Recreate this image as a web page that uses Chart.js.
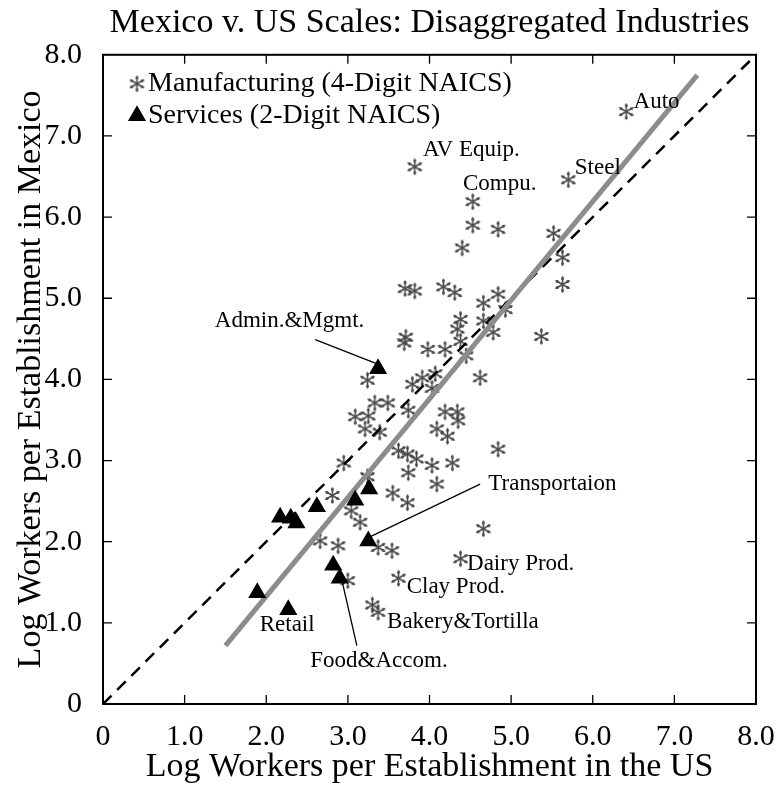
<!DOCTYPE html>
<html>
<head>
<meta charset="utf-8">
<script src="https://cdn.jsdelivr.net/npm/chart.js@4/dist/chart.umd.min.js"></script>
<style>
  html, body { margin: 0; padding: 0; background: #fff; }
  #wrap { width: 778px; height: 787px; }
</style>
</head>
<body>
<div id="wrap"><canvas id="scaleChart"></canvas></div>
<script>
// log workers per establishment, US (x) vs Mexico (y)
var mfgUS = [6.41, 3.82, 5.70, 4.53, 4.53, 4.84, 4.40, 5.52, 5.63, 5.63,
             3.70, 3.82, 4.17, 4.31, 4.84, 4.66, 4.93, 4.38, 4.66, 4.34,
             4.78, 5.37, 3.71, 3.69, 3.98, 4.19, 4.38, 4.45, 3.24, 3.79,
             3.91, 4.03, 4.07, 4.62, 3.33, 3.49, 3.74, 4.19, 4.34, 4.35,
             4.09, 4.22, 3.09, 3.25, 3.21, 3.39, 4.84, 3.62, 3.73, 3.84,
             2.95, 4.03, 4.28, 3.74, 3.24, 4.09, 3.55, 3.73, 2.81, 3.04,
             3.15, 4.66, 2.66, 2.88, 3.37, 3.54, 4.38, 3.00, 3.62, 3.30, 3.37];
var mfgMX = [7.30, 6.62, 6.46, 6.19, 5.90, 5.85, 5.62, 5.80, 5.50, 5.17,
             5.12, 5.09, 5.14, 5.07, 5.05, 4.94, 4.86, 4.74, 4.72, 4.62,
             4.58, 4.53, 4.52, 4.45, 4.37, 4.37, 4.47, 4.29, 3.99, 3.94,
             4.02, 3.89, 4.07, 4.02, 3.71, 3.71, 3.62, 3.60, 3.60, 3.49,
             3.39, 3.30, 3.54, 3.55, 3.39, 3.35, 3.14, 3.12, 3.08, 3.02,
             2.97, 2.94, 2.97, 2.85, 2.80, 2.71, 2.60, 2.48, 2.57, 2.38,
             2.24, 2.16, 2.01, 1.95, 1.93, 1.89, 1.79, 1.52, 1.55, 1.22, 1.13];

var svcUS = [3.37, 3.25, 3.26, 3.09, 2.62, 2.17, 2.30, 2.37, 2.82, 2.90, 1.89, 2.27];
var svcMX = [4.13, 2.01, 2.65, 2.51, 2.43, 2.30, 2.29, 2.23, 1.71, 1.55, 1.37, 1.16];

var fitUS = [1.50, 7.28];
var fitMX = [0.72, 7.75];
var diagUS = [0, 8];
var diagMX = [0, 8];

var tickLabels = ['0', '1.0', '2.0', '3.0', '4.0', '5.0', '6.0', '7.0', '8.0'];

// industry labels, anchored at their left/middle point in data units
var noteText = ['Auto', 'AV Equip.', 'Steel', 'Compu.', 'Dairy Prod.', 'Clay Prod.',
                'Bakery&Tortilla', 'Retail', 'Food&Accom.', 'Admin.&Mgmt.', 'Transportaion'];
var noteUS = [6.50, 3.92, 5.78, 4.41, 4.46, 3.72, 3.48, 1.92, 2.54, 1.37, 4.72];
var noteMX = [7.42, 6.83, 6.60, 6.41, 1.73, 1.44, 1.01, 0.97, 0.53, 4.72, 2.71];

// pointer lines from label to triangle
var arrowFromUS = [2.60, 4.62, 3.11];
var arrowFromMX = [4.49, 2.71, 0.72];
var arrowToUS = [3.39, 3.27, 2.93];
var arrowToMX = [4.18, 2.06, 1.51];

function pts(xs, ys) {
  return xs.map(function (x, i) { return { x: x, y: ys[i] }; });
}

function makeAsterisk(r) {
  var c = document.createElement('canvas');
  var s = Math.ceil(r * 2 + 4);
  c.width = s; c.height = s;
  var g = c.getContext('2d');
  g.strokeStyle = '#4a4a4a';
  g.fillStyle = '#4a4a4a';
  g.lineWidth = 1.6;
  g.lineCap = 'round';
  for (var k = 0; k < 3; k++) {
    var a = Math.PI / 2 + k * Math.PI / 3;
    g.beginPath();
    g.moveTo(s / 2 - Math.cos(a) * r, s / 2 - Math.sin(a) * r);
    g.lineTo(s / 2 + Math.cos(a) * r, s / 2 + Math.sin(a) * r);
    g.stroke();
    [-1, 1].forEach(function (d) {
      g.beginPath();
      g.arc(s / 2 + d * Math.cos(a) * (r - 1.5), s / 2 + d * Math.sin(a) * (r - 1.5), 1.5, 0, Math.PI * 2);
      g.fill();
    });
  }
  return c;
}

var star = makeAsterisk(7.5);
var serif = 'Liberation Serif';

var decor = {
  id: 'decor',
  afterDatasetsDraw: function (chart) {
    var ctx = chart.ctx, ca = chart.chartArea;
    var sx = chart.scales.x, sy = chart.scales.y;
    ctx.save();

    // frame + inward ticks
    ctx.strokeStyle = '#000';
    ctx.lineWidth = 2;
    ctx.strokeRect(ca.left, ca.top, ca.right - ca.left, ca.bottom - ca.top);
    ctx.lineWidth = 1.3;
    ctx.beginPath();
    for (var t = 1; t < 8; t++) {
      var px = sx.getPixelForValue(t), py = sy.getPixelForValue(t);
      ctx.moveTo(px, ca.bottom); ctx.lineTo(px, ca.bottom - 9);
      ctx.moveTo(px, ca.top); ctx.lineTo(px, ca.top + 9);
      ctx.moveTo(ca.left, py); ctx.lineTo(ca.left + 9, py);
      ctx.moveTo(ca.right, py); ctx.lineTo(ca.right - 9, py);
    }
    ctx.stroke();

    // pointer lines
    ctx.lineWidth = 1.3;
    ctx.beginPath();
    for (var i = 0; i < arrowFromUS.length; i++) {
      ctx.moveTo(sx.getPixelForValue(arrowFromUS[i]), sy.getPixelForValue(arrowFromMX[i]));
      ctx.lineTo(sx.getPixelForValue(arrowToUS[i]), sy.getPixelForValue(arrowToMX[i]));
    }
    ctx.stroke();

    // labels
    ctx.fillStyle = '#000';
    ctx.font = '23px "' + serif + '"';
    ctx.textAlign = 'left';
    ctx.textBaseline = 'middle';
    noteText.forEach(function (txt, j) {
      ctx.fillText(txt, sx.getPixelForValue(noteUS[j]), sy.getPixelForValue(noteMX[j]));
    });

    // legend inside the plot, top left
    var lx = ca.left + 34, ly = ca.top + 29;
    ctx.font = '28px "' + serif + '"';
    ctx.drawImage(star, lx - star.width / 2, ly - star.height / 2);
    ctx.fillText(chart.data.datasets[0].label, lx + 11, ly);
    var ty = ly + 32, r = 10.5;
    ctx.beginPath();
    ctx.moveTo(lx, ty - r);
    ctx.lineTo(lx + r * 0.866, ty + r / 2);
    ctx.lineTo(lx - r * 0.866, ty + r / 2);
    ctx.closePath();
    ctx.fill();
    ctx.fillText(chart.data.datasets[1].label, lx + 11, ty);
    ctx.restore();
  }
};

var ctxS = document.getElementById('scaleChart').getContext('2d');
var scaleChart = new Chart(ctxS, {
  type: 'scatter',
  data: {
    datasets: [{
      label: 'Manufacturing (4-Digit NAICS)',
      data: pts(mfgUS, mfgMX),
      pointStyle: star,
      pointRadius: 7,
      order: 4
    }, {
      label: 'Services (2-Digit NAICS)',
      data: pts(svcUS, svcMX),
      pointStyle: 'triangle',
      pointRadius: 10.5,
      backgroundColor: '#000',
      borderColor: '#000',
      borderWidth: 0,
      order: 1
    }, {
      type: 'line',
      label: 'fit',
      data: pts(fitUS, fitMX),
      borderColor: '#8c8c8c',
      borderWidth: 5,
      pointRadius: 0,
      fill: false,
      order: 2
    }, {
      type: 'line',
      label: '45 degree',
      data: pts(diagUS, diagMX),
      borderColor: '#000',
      borderWidth: 2.5,
      borderDash: [12, 8],
      pointRadius: 0,
      fill: false,
      order: 3
    }]
  },
  options: {
    responsive: true,
    maintainAspectRatio: false,
    animation: false,
    layout: { padding: { left: 11, right: 0, top: 0, bottom: 0 } },
    plugins: {
      legend: { display: false },
      tooltip: { enabled: false },
      title: {
        display: true,
        fullSize: false,
        text: 'Mexico v. US Scales: Disaggregated Industries',
        color: '#000',
        font: { family: serif, size: 34, weight: 'normal' },
        padding: { top: 3, bottom: 11 }
      }
    },
    scales: {
      x: {
        type: 'linear',
        min: 0, max: 8,
        grid: { display: false },
        border: { display: false },
        ticks: {
          stepSize: 1, autoSkip: false, maxRotation: 0, padding: 7, color: '#000',
          font: { family: serif, size: 30 },
          callback: function (v) { return tickLabels[Math.round(v)]; }
        },
        title: {
          display: true, text: 'Log Workers per Establishment in the US', color: '#000',
          font: { family: serif, size: 34 }, padding: 0
        },
        afterFit: function (s) { s.height = 83; s.paddingRight = 22; s.paddingLeft = 0; }
      },
      y: {
        type: 'linear',
        min: 0, max: 8,
        grid: { display: false },
        border: { display: false },
        ticks: {
          stepSize: 1, autoSkip: false, padding: 13, color: '#000',
          font: { family: serif, size: 30 },
          callback: function (v) { return tickLabels[Math.round(v)]; }
        },
        title: {
          display: true, text: 'Log Workers per Establishment in Mexico', color: '#000',
          font: { family: serif, size: 34 }, padding: 0
        },
        afterFit: function (s) { s.width = 92; }
      }
    }
  },
  plugins: [decor]
});
</script>
</body>
</html>
